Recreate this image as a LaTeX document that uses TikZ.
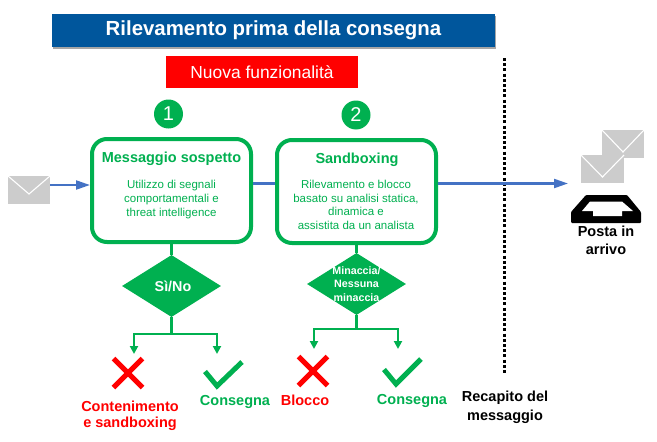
\documentclass[tikz,border=0pt]{standalone}
\usepackage{fontspec}
\setmainfont{Liberation Sans}
\usetikzlibrary{arrows.meta,shapes.geometric}
\definecolor{tgreen}{HTML}{00B050}
\definecolor{tblue}{HTML}{00569C}
\definecolor{tline}{HTML}{4472C4}
\definecolor{tgrey}{HTML}{CCCCCC}
\newcommand{\fs}[1]{\fontsize{#1}{#1}\selectfont}
\newcommand{\mailicon}[5]{%
  \fill[tgrey] (#1,#2) rectangle (#3,#4);
  \draw[white,line width=1.1pt] (#1,#2) -- ({(#1+#3)/2},#5) -- (#3,#2);
}
\tikzset{
  x=1pt,y=-1pt,
  flowbox/.style={draw=tgreen,line width=4pt,rounded corners=15pt,fill=white},
  badge/.style={circle,fill=tgreen,text=white,minimum size=29pt,inner sep=0pt,font=\fs{20}},
  decision/.style={fill=tgreen,draw=none},
  flowline/.style={draw=tgreen,line width=2.4pt},
  flowarrow/.style={flowline,-{Triangle[width=8pt,length=8pt]}},
  mailline/.style={draw=tline,line width=2.2pt},
  mailarrow/.style={mailline,-{Triangle[width=9pt,length=14pt]}},
  heading/.style={text=tgreen,font=\bfseries\fs{14.5}},
  bodytext/.style={text=tgreen,align=center,font=\fs{11.5}},
  greenlabel/.style={text=tgreen,font=\bfseries\fs{14.5},inner sep=0pt},
  redlabel/.style={text=red,font=\bfseries\fs{14.5},align=center,inner sep=0pt},
  blacklabel/.style={text=black,font=\bfseries\fs{14.5},align=center,inner sep=0pt},
  crossmark/.style={draw=red,line width=5pt},
  checkmark/.style={draw=tgreen,line width=5pt},
}
\begin{document}
\begin{tikzpicture}
\useasboundingbox (0,0) rectangle (657,442);
% header
\fill[black!35] (53,16) rectangle (496,48.5);
\node[fill=tblue,text=white,font=\bfseries\fs{20.4},minimum width=443pt,minimum height=33pt,inner sep=0pt] (title) at (273.5,30.5) {Rilevamento prima della consegna};
\node[fill=red,text=white,font=\fs{17.4},minimum width=192pt,minimum height=32pt,inner sep=0pt] (newf) at (262,72) {Nuova funzionalità};
% dotted separator
\coordinate (sepT) at (504.5,58);
\coordinate (sepB) at (504.5,373);
\draw[line width=3pt,dash pattern=on 3pt off 2.2pt] (sepT) -- (sepB);
% badges
\node[badge] (n1) at (168.5,114) {1};
\node[badge] (n2) at (356,115) {2};
% mail connectors (under boxes)
\coordinate (mailL) at (50,185);
\coordinate (inbox) at (568,183.5);
% boxes
\node[flowbox,minimum width=159pt,minimum height=103pt,inner sep=0pt] (b1) at (171.5,190.5) {};
\node[flowbox,minimum width=159pt,minimum height=103pt,inner sep=0pt] (b2) at (356.5,191.5) {};
\draw[mailarrow] (mailL) -- (b1.west |- mailL);
\draw[mailline] (b1.east |- 0,183.5) -- (b2.west |- 0,183.5);
\draw[mailarrow] (b2.east |- inbox) -- (inbox);
\node[heading] (h1) at (171.5,158.5) {Messaggio sospetto};
\node[heading] (h2) at (357,159.5) {Sandboxing};
\node[bodytext,inner sep=0pt] (t1) at (171.5,199.5) {Utilizzo di segnali\\[2.2pt]comportamentali e\\[2.2pt]threat intelligence};
\node[bodytext,inner sep=0pt] (t2) at (356,205) {Rilevamento e blocco\\[2pt]basato su analisi statica,\\[2pt]dinamica e\\[2pt]assistita da un analista};
% diamonds
\node[decision,diamond,minimum width=99pt,minimum height=62pt,inner sep=0pt,aspect=1.6] (d1) at (171.5,286) {};
\node[text=white,font=\bfseries\fs{14.3},inner sep=0pt] (d1t) at (173,286) {Sì/No};
\node[decision,diamond,minimum width=99pt,minimum height=62pt,inner sep=0pt,aspect=1.6] (d2) at (356.5,284) {};
\node[text=white,font=\bfseries\fs{10.7},align=center,inner sep=0pt] (d2t) at (356.5,284) {Minaccia/\\[2.5pt]Nessuna\\[2.5pt]minaccia};
\draw[flowline] (b1.south) -- (d1.north);
\draw[flowline] (b2.south) -- (d2.north);
% outcome marks
\coordinate (c1) at (217,386);
\coordinate (c2) at (396,384);
\draw[crossmark] (113.5,358.5) -- (142.5,387.5) (113.5,387.5) -- (142.5,358.5);
\draw[crossmark] (298.5,356.5) -- (327.5,385.5) (298.5,385.5) -- (327.5,356.5);
\draw[checkmark] (205,371.5) -- (c1) -- (242,362);
\draw[checkmark] (384,369.5) -- (c2) -- (421,359);
% branches
\coordinate (a1) at (134,354);
\coordinate (a2) at (217,354);
\coordinate (a3) at (314,349);
\coordinate (a4) at (398,349);
\coordinate (j1) at (171.5,334);
\coordinate (j2) at (356.5,329);
\draw[flowline] (d1.south) -- (j1);
\draw[flowline] (d2.south) -- (j2);
\draw[flowarrow] (j1) -| (a1);
\draw[flowarrow] (j1) -| (a2);
\draw[flowarrow] (j2) -| (a3);
\draw[flowarrow] (j2) -| (a4);
% labels
\node[redlabel] (l1) at (130,416) {Contenimento\\[2pt]e sandboxing};
\node[greenlabel] (l2) at (235,402) {Consegna};
\node[redlabel] (l3) at (305,400) {Blocco};
\node[greenlabel] (l4) at (412,401) {Consegna};
\node[blacklabel] (l5) at (505,407.5) {Recapito del\\[4.5pt]messaggio};
\node[blacklabel] (l6) at (606,240) {Posta in\\[3.5pt]arrivo};
% mail icons
\mailicon{8}{176}{50}{204}{194}
\mailicon{602}{130}{644}{158}{152}
\mailicon{581}{155}{624}{183}{177}
% inbox tray
\fill[black,rounded corners=1pt] (586,195) -- (627,195) -- (641,212) -- (641,223) -- (571,223) -- (571,212) -- cycle;
\fill[white] (590,201.5) -- (622,201.5) -- (633,211) -- (622,211) -- (622,216) -- (593,216) -- (593,211) -- (582,211) -- cycle;
\end{tikzpicture}
\end{document}
